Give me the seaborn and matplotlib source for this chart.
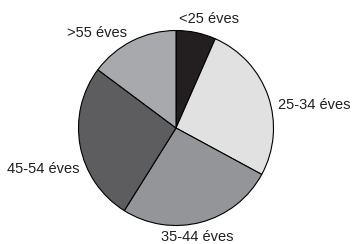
import matplotlib
matplotlib.use("Agg")
import matplotlib.pyplot as plt
import seaborn as sns

labels = ["<25 éves", "25-34 éves", "35-44 éves", "45-54 éves", ">55 éves"]
values = [6.6, 26.3, 26.0, 26.3, 14.8]
colors = ["#231f20", "#e1e1e2", "#949598", "#5d5d5f", "#a8a9ac"]

sns.set_theme(style="white")
plt.rcParams['font.family'] = ['Liberation Sans', 'DejaVu Sans']

W, H = 353, 244
fig = plt.figure(figsize=(W / 100, H / 100), dpi=100)
cx, cy, r = 176, 128, 97.5
ax = fig.add_axes([(cx - r) / W, (H - cy - r) / H, 2 * r / W, 2 * r / H])
ax.pie(values, colors=colors, startangle=90, counterclock=False, radius=1,
       wedgeprops=dict(edgecolor="black", linewidth=0.8))
ax.set_xlim(-1, 1)
ax.set_ylim(-1, 1)
ax.axis("off")

# label anchor positions in pixel coordinates
label_pos = [(209, 19, "center"), (278, 105, "left"), (197, 237, "center"),
             (7, 169, "left"), (97, 33, "center")]
for lab, (px, py, ha) in zip(labels, label_pos):
    fig.text(px / W, 1 - py / H, lab, ha=ha, va="center", fontsize=10.5, color="#231f20")

fig.savefig("out.png", dpi=100)
